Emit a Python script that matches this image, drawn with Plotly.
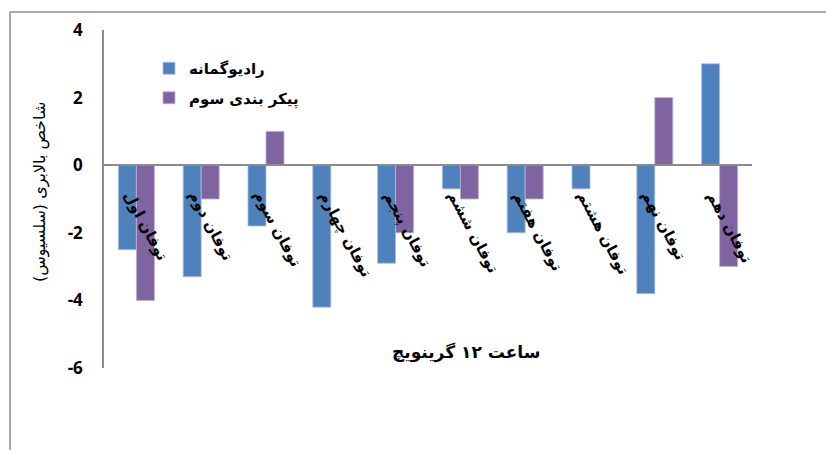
import plotly.graph_objects as go

categories = ["توفان اول", "توفان دوم", "توفان سوم", "توفان چهارم", "توفان پنجم",
              "توفان ششم", "توفان هفتم", "توفان هشتم", "توفان نهم", "توفان دهم"]
radiosonde = [-2.5, -3.3, -1.8, -4.2, -2.9, -0.7, -2.0, -0.7, -3.8, 3.0]
config3 = [-4.0, -1.0, 1.0, 0.0, -2.0, -1.0, -1.0, 0.0, 2.0, -3.0]
series_names = ["رادیوگمانه", "پیکر بندی سوم"]
y_range = [-6, 4]
y_ticks = [4, 2, 0, -2, -4, -6]
x_title = "ساعت ۱۲ گرینویچ"
y_title = "شاخص بالابری (سلسیوس)"

AR = "DejaVu Sans"
W, H = 826, 450
L, R, T, B = 104, 74, 30, 82
pw, ph = W - L - R, H - T - B

fig = go.Figure()
fig.add_trace(go.Bar(x=categories, y=radiosonde, name=series_names[0], legendgroup="a",
                     marker=dict(color="#4F81BD", line=dict(color="#A7C0DE", width=0.8))))
fig.add_trace(go.Bar(x=categories, y=config3, name=series_names[1], legendgroup="b",
                     marker=dict(color="#8064A2", line=dict(color="#BFB1D2", width=0.8))))

zero_pos = (0 - y_range[0]) / (y_range[1] - y_range[0])

annotations = [
    dict(text=c, x=c, y=0, xref="x", yref="y", showarrow=False, textangle=62,
         xanchor="left", yanchor="top", xshift=-19, yshift=-20,
         font=dict(family=AR, size=15, color="black", weight="bold"))
    for c in categories
]
annotations += [
    dict(text=x_title, xref="paper", yref="paper", xanchor="center", yanchor="middle",
         x=(466 - L) / pw, y=(H - B - 352) / ph, showarrow=False,
         font=dict(family=AR, size=17, color="black", weight="bold")),
    dict(text=y_title, xref="paper", yref="paper", textangle=-90,
         xanchor="center", yanchor="middle",
         x=(40 - L) / pw, y=(H - B - 192) / ph, showarrow=False,
         font=dict(family=AR, size=16, color="black")),
]

fig.update_layout(
    width=W, height=H,
    margin=dict(l=L, r=R, t=T, b=B, autoexpand=False),
    paper_bgcolor="white", plot_bgcolor="white",
    barmode="group", bargap=0.444, bargroupgap=0,
    showlegend=True,
    legend=dict(x=(149 - L) / pw, y=(H - B - 52) / ph, xanchor="left", yanchor="top",
                font=dict(family=AR, size=15, color="black", weight="bold"),
                bgcolor="rgba(0,0,0,0)", itemwidth=30, tracegroupgap=7),
    xaxis=dict(type="category", anchor="free", position=zero_pos, automargin=False,
               range=[-0.5, len(categories) - 0.5],
               showline=True, linecolor="#8C8C8C", linewidth=1.5,
               showgrid=False, zeroline=False, ticks="", showticklabels=False),
    yaxis=dict(range=y_range, tickvals=y_ticks, ticktext=[str(v) for v in y_ticks],
               automargin=False,
               showline=True, linecolor="#8C8C8C", linewidth=1.5,
               showgrid=False, zeroline=False, ticks="", ticklabelstandoff=16,
               tickfont=dict(family="Open Sans", size=17, color="black", weight="bold")),
    annotations=annotations,
    shapes=[
        dict(type="line", xref="paper", yref="paper", x0=(10 - L) / pw, x1=(W + 10 - L) / pw,
             y0=(H - B - 12) / ph, y1=(H - B - 12) / ph, line=dict(color="#8C8C8C", width=1.5)),
        dict(type="line", xref="paper", yref="paper", x0=(10 - L) / pw, x1=(10 - L) / pw,
             y0=(H - B - 12) / ph, y1=(-10 - B) / ph, line=dict(color="#8C8C8C", width=1.5)),
    ],
)

fig.write_html("out.html")
